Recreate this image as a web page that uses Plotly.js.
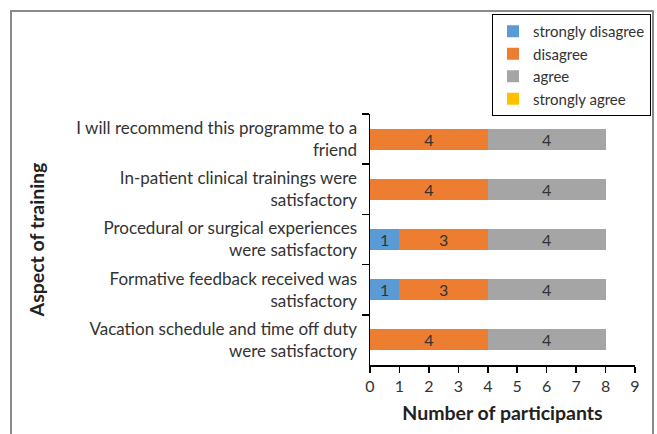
<!DOCTYPE html>
<html>
<head>
<meta charset="utf-8">
<script src="https://cdn.plot.ly/plotly-3.0.1.min.js"></script>
<style>
html,body{margin:0;padding:0;background:#fff;}
#chart{width:657px;height:434px;}
</style>
</head>
<body>
<div id="chart"></div>
<script>
var categories = [
  "I will recommend this programme to a<br>friend",
  "In-patient clinical trainings were<br>satisfactory",
  "Procedural or surgical experiences<br>were satisfactory",
  "Formative feedback received was<br>satisfactory",
  "Vacation schedule and time off duty<br>were satisfactory"
];
var seriesNames = ["strongly disagree", "disagree", "agree", "strongly agree"];
var stronglyDisagree = [0, 0, 1, 1, 0];
var disagree = [4, 4, 3, 3, 4];
var agree = [4, 4, 4, 4, 4];
var stronglyAgree = [0, 0, 0, 0, 0];
var colors = ["#5B9BD5", "#ED7D31", "#A5A5A5", "#FFC000"];
var xTicks = [0,1,2,3,4,5,6,7,8,9];

var FONT = "Lato, 'Open Sans', sans-serif";
var allSeries = [stronglyDisagree, disagree, agree, stronglyAgree];
var traces = allSeries.map(function(vals, i){
  return {
    type: 'bar',
    orientation: 'h',
    name: seriesNames[i],
    y: categories,
    x: vals,
    marker: {color: colors[i], line: {width: 0}},
    text: vals.map(function(v){ return v ? String(v) : ''; }),
    textposition: 'inside',
    insidetextanchor: 'middle',
    constraintext: 'none',
    textangle: 0,
    textfont: {family: FONT, size: 16, color: '#333333'},
    hoverinfo: 'x+name'
  };
});

var W = 657, H = 434, L = 370, R = 22, T = 114, B = 69;
var pw = W - L - R, ph = H - T - B;
function px(x){ return (x - L) / pw; }
function py(y){ return 1 - (y - T) / ph; }

var layout = {
  width: W, height: H,
  margin: {l: L, r: R, t: T, b: B, pad: 0, autoexpand: false},
  paper_bgcolor: '#ffffff',
  plot_bgcolor: '#ffffff',
  barmode: 'stack',
  bargap: 0.58,
  font: {family: FONT, color: '#333333'},
  showlegend: true,
  legend: {
    x: px(492), y: py(14), xanchor: 'left', yanchor: 'top',
    bordercolor: '#000000', borderwidth: 1,
    font: {family: FONT, size: 15, color: '#333333'},
    traceorder: 'normal',
    itemwidth: 30,
    tracegroupgap: 0
  },
  xaxis: {
    range: [0, 9],
    tickvals: xTicks,
    ticktext: xTicks.map(String),
    showgrid: false, zeroline: false,
    showline: true, linecolor: '#000000', linewidth: 1.5,
    ticks: 'outside', ticklen: 6, tickcolor: '#000000', tickwidth: 1.5,
    tickfont: {family: FONT, size: 16, color: '#333333'},
    title: {text: '<b>Number of participants</b>', font: {family: FONT, size: 19.5, color: '#222222'}, standoff: 12},
    automargin: false,
    fixedrange: true
  },
  yaxis: {
    type: 'category',
    autorange: 'reversed',
    showgrid: false, zeroline: false,
    showline: true, linecolor: '#000000', linewidth: 1.5,
    ticks: 'outside', tickson: 'boundaries', ticklen: 7, tickcolor: '#000000', tickwidth: 1.5,
    tickfont: {family: FONT, size: 17, color: '#333333'},
    ticklabelstandoff: 8,
    title: {text: '<b>Aspect of training</b>', font: {family: FONT, size: 19.5, color: '#222222'}, standoff: 26},
    automargin: false,
    fixedrange: true
  },
  shapes: [{
    type: 'rect', xref: 'paper', yref: 'paper',
    x0: px(11), x1: px(653), y0: py(445), y1: py(11),
    line: {color: '#8a8a8a', width: 2},
    fillcolor: 'rgba(0,0,0,0)', layer: 'below'
  }]
};

Plotly.newPlot('chart', traces, layout, {displayModeBar: false, staticPlot: true});
</script>
</body>
</html>
